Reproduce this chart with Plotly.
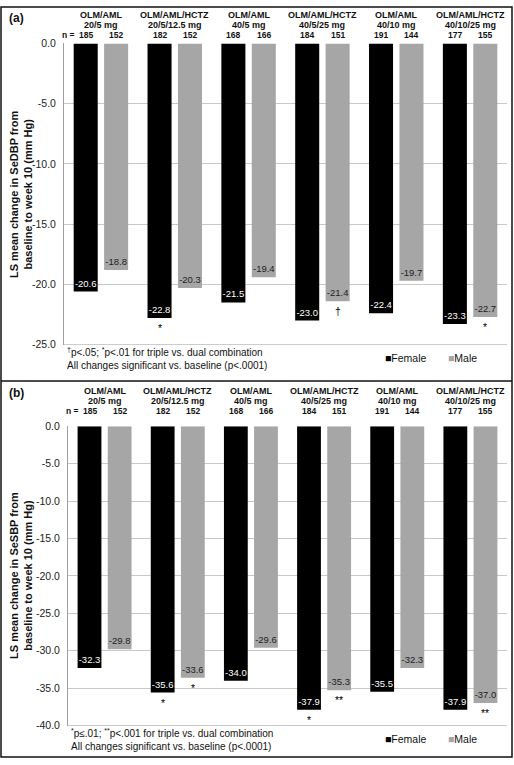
import plotly.graph_objects as go

# ---------------- data ----------------
groups_line1 = ["OLM/AML", "OLM/AML/HCTZ", "OLM/AML", "OLM/AML/HCTZ", "OLM/AML", "OLM/AML/HCTZ"]
groups_line2 = ["20/5 mg", "20/5/12.5 mg", "40/5 mg", "40/5/25 mg", "40/10 mg", "40/10/25 mg"]
categories = [f"{a} {b}" for a, b in zip(groups_line1, groups_line2)]
n_female = [185, 182, 168, 184, 191, 177]
n_male = [152, 152, 166, 151, 144, 155]

dbp_female = [-20.6, -22.8, -21.5, -23.0, -22.4, -23.3]
dbp_male = [-18.8, -20.3, -19.4, -21.4, -19.7, -22.7]
dbp_sig_female = ["", "*", "", "", "", ""]
dbp_sig_male = ["", "", "", "†", "", "*"]

sbp_female = [-32.3, -35.6, -34.0, -37.9, -35.5, -37.9]
sbp_male = [-29.8, -33.6, -29.6, -35.3, -32.3, -37.0]
sbp_sig_female = ["", "*", "", "*", "", ""]
sbp_sig_male = ["", "*", "", "**", "", "**"]

dbp_ticks = [0, -5, -10, -15, -20, -25]
sbp_ticks = [0, -5, -10, -15, -20, -25, -30, -35, -40]

# ---------------- style ----------------
W, H = 514, 765
FONT = "Arial, Liberation Sans, sans-serif"
BLACK = "#000000"
GRAY = "#a6a6a6"
TXT = "#111111"
BARGAP = 0.176
HALF = (1 - BARGAP) / 4  # offset of each bar centre from category centre

def px(x):
    return x / W

def py(y):
    return 1 - y / H

fig = go.Figure()
annotations = []

def panel(suffix, female, male, sig_f, sig_m, ticks, x0, x1, y0, y1, ymin,
          ytitle, foot1, foot_y, label, label_y, title_y, n_y):
    xa = "x" + suffix
    ya = "y" + suffix
    fig.add_trace(go.Bar(
        x=categories, y=female, name="Female", marker_color=BLACK, marker_line_width=0,
        text=[f"{v:.1f}" for v in female], textposition="inside", insidetextanchor="end",
        textangle=0, textfont=dict(color="white", size=9.5, family=FONT), constraintext="none",
        xaxis=xa, yaxis=ya, showlegend=False))
    fig.add_trace(go.Bar(
        x=categories, y=male, name="Male", marker_color=GRAY, marker_line_width=0,
        text=[f"{v:.1f}" for v in male], textposition="inside", insidetextanchor="end",
        textangle=0, textfont=dict(color="#222222", size=9.5, family=FONT), constraintext="none",
        xaxis=xa, yaxis=ya, showlegend=False))

    axkey = "xaxis" + suffix
    aykey = "yaxis" + suffix
    fig.layout[axkey] = dict(
        domain=[px(x0), px(x1)], anchor=ya, type="category",
        range=[-0.5, 5.5], showticklabels=False, ticks="",
        showgrid=False, zeroline=False, showline=False, fixedrange=True)
    fig.layout[aykey] = dict(
        domain=[py(y1), py(y0)], anchor=xa, range=[ymin, 0],
        tickvals=ticks, ticktext=[f"{t:.1f}" for t in ticks],
        tickfont=dict(size=10.5, family=FONT, color="#222222"),
        ticks="outside", ticklen=5, tickcolor="rgba(0,0,0,0)",
        showgrid=True, gridcolor="#c8c8c8", gridwidth=1,
        zeroline=False, showline=True, linecolor="#a0a0a0", linewidth=1)

    # bottom axis line
    fig.add_shape(type="line", xref="paper", yref=ya, x0=px(x0), x1=px(x1), y0=ymin, y1=ymin,
                  line=dict(color="#909090", width=1))

    # group titles and n values
    for i in range(6):
        annotations.append(dict(x=i, y=py(title_y[0]), xref=xa, yref="paper", text=f"<b>{groups_line1[i]}</b>",
                                showarrow=False, font=dict(size=9, family=FONT, color=TXT), yanchor="middle"))
        annotations.append(dict(x=i, y=py(title_y[1]), xref=xa, yref="paper", text=f"<b>{groups_line2[i]}</b>",
                                showarrow=False, font=dict(size=9, family=FONT, color=TXT), yanchor="middle"))
        annotations.append(dict(x=i - HALF, y=py(n_y), xref=xa, yref="paper", text=f"<b>{n_female[i]}</b>",
                                showarrow=False, font=dict(size=8.5, family=FONT, color=TXT), yanchor="middle"))
        annotations.append(dict(x=i + HALF, y=py(n_y), xref=xa, yref="paper", text=f"<b>{n_male[i]}</b>",
                                showarrow=False, font=dict(size=8.5, family=FONT, color=TXT), yanchor="middle"))
    annotations.append(dict(x=-HALF, y=py(n_y), xref=xa, yref="paper", text="<b>n =</b>", xanchor="right",
                            xshift=-9, showarrow=False, font=dict(size=8.5, family=FONT, color=TXT),
                            yanchor="middle"))

    # significance markers
    for i in range(6):
        if sig_f[i]:
            annotations.append(dict(x=i - HALF, y=female[i], xref=xa, yref=ya, text=sig_f[i], showarrow=False,
                                    yanchor="top", yshift=-2, font=dict(size=10.5, family=FONT, color="#000000")))
        if sig_m[i]:
            annotations.append(dict(x=i + HALF, y=male[i], xref=xa, yref=ya, text=sig_m[i], showarrow=False,
                                    yanchor="top", yshift=-2, font=dict(size=10.5, family=FONT, color="#000000")))

    # y-axis title
    annotations.append(dict(x=px(21), y=(py(y0) + py(y1)) / 2, xref="paper", yref="paper", text=ytitle,
                            textangle=-90, showarrow=False, font=dict(size=11, family=FONT, color=TXT),
                            xanchor="center", yanchor="middle"))

    # footnote
    annotations.append(dict(x=px(x0 + 1), y=py(foot_y), xref="paper", yref="paper", text=foot1,
                            xanchor="left", yanchor="middle", align="left", showarrow=False,
                            font=dict(size=10, family=FONT, color=TXT)))
    annotations.append(dict(x=px(x0 + 1), y=py(foot_y + 13), xref="paper", yref="paper",
                            text="All changes significant vs. baseline (p<.0001)",
                            xanchor="left", yanchor="middle", align="left", showarrow=False,
                            font=dict(size=10, family=FONT, color=TXT)))
    # legend
    annotations.append(dict(x=px(383), y=py(foot_y + 6), xref="paper", yref="paper",
                            text=f"<span style='color:{BLACK}'>■</span>Female",
                            xanchor="left", yanchor="middle", showarrow=False,
                            font=dict(size=10.5, family=FONT, color=TXT)))
    annotations.append(dict(x=px(446), y=py(foot_y + 6), xref="paper", yref="paper",
                            text=f"<span style='color:{GRAY}'>■</span>Male",
                            xanchor="left", yanchor="middle", showarrow=False,
                            font=dict(size=10.5, family=FONT, color=TXT)))
    # panel label
    annotations.append(dict(x=px(7), y=py(label_y), xref="paper", yref="paper", text=f"<b>{label}</b>",
                            xanchor="left", yanchor="middle", showarrow=False,
                            font=dict(size=12, family=FONT, color=TXT)))

panel("", dbp_female, dbp_male, dbp_sig_female, dbp_sig_male, dbp_ticks,
      64, 507, 38, 344, -25,
      "<b>LS mean change in SeDBP from<br>baseline to week 10 (mm Hg)</b>",
      "<sup>†</sup>p<.05; <sup>*</sup>p<.01 for triple vs. dual combination",
      352, "(a)", 12, (9, 19), 29)
panel("2", sbp_female, sbp_male, sbp_sig_female, sbp_sig_male, sbp_ticks,
      68, 507, 427, 731, -40,
      "<b>LS mean change in SeSBP from<br>baseline to week 10 (mm Hg)</b>",
      "<sup>*</sup>p≤.01; <sup>**</sup>p<.001 for triple vs. dual combination",
      739, "(b)", 393, (391.5, 401.5), 411.5)

# frame and separator
fig.add_shape(type="rect", xref="paper", yref="paper", x0=px(1), x1=px(512), y0=py(763), y1=py(1),
              line=dict(color="#111", width=1.5))
fig.add_shape(type="line", xref="paper", yref="paper", x0=px(1), x1=px(512), y0=py(381), y1=py(381),
              line=dict(color="#111", width=1.5))

fig.update_layout(
    width=W, height=H, margin=dict(l=0, r=0, t=0, b=0),
    paper_bgcolor="white", plot_bgcolor="white",
    barmode="group", bargap=BARGAP, bargroupgap=0.21,
    annotations=annotations, font=dict(family=FONT),
    uniformtext=dict(minsize=9.5, mode="show"),
)

fig.write_html("out.html", config={"displayModeBar": False},
               post_script="document.body.style.margin='0';document.body.style.overflow='hidden';")
